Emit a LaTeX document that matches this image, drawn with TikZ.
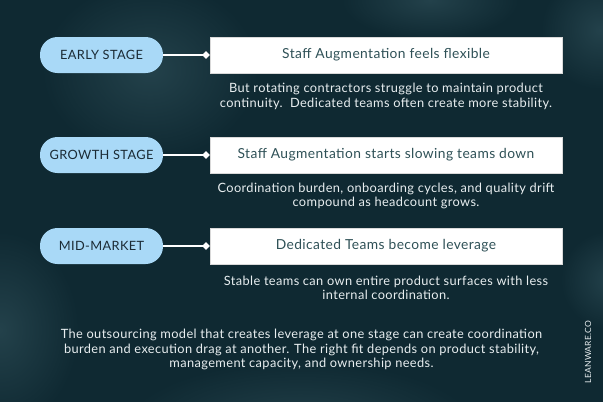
\documentclass[tikz,border=0pt]{standalone}
\usepackage{fontspec}
\setmainfont{Lato}[LetterSpace=3]
\usetikzlibrary{shapes.geometric,fadings}
\definecolor{bgdark}{HTML}{0F2932}
\definecolor{cloud}{HTML}{4A707A}
\definecolor{pillblue}{HTML}{A9D9F7}
\definecolor{pilltext}{HTML}{1B2B35}
\definecolor{titletext}{HTML}{2F5157}
\definecolor{desctext}{HTML}{E8EEF0}
\tikzfading[name=softblob, inner color=transparent!65, outer color=transparent!100]
\tikzset{
  stagepill/.style={fill=pillblue, rounded corners=17.5pt, minimum width=123pt, minimum height=36pt, inner sep=0pt, text=pilltext, font=\fontsize{12.8}{14}\selectfont},
  titlebox/.style={fill=white, draw=gray!30, line width=0.5pt, minimum width=352pt, minimum height=36pt, inner sep=0pt, text=titletext, font=\fontsize{13.8}{15}\selectfont},
  desc/.style={text=desctext, align=center, inner sep=0pt, font=\fontsize{12.8}{14.6}\selectfont},
  joint/.style={diamond, fill=white, inner sep=0pt, minimum size=8pt},
  connector/.style={draw=white, line width=2pt},
  blob/.style={fill=cloud, path fading=softblob}
}
\begin{document}
\begin{tikzpicture}[x=1pt,y=-1pt]
\fill[bgdark] (0,0) rectangle (603,402);
\useasboundingbox (0,0) rectangle (603,402);
% soft background clouds
\fill[blob] (150,70) ellipse (110pt and 90pt);
\fill[blob] (0,330) ellipse (80pt and 100pt);
\fill[blob] (300,430) ellipse (180pt and 70pt);
\fill[blob] (610,280) circle (50pt);
\fill[blob] (600,30) circle (60pt);
\fill[blob] (430,0) ellipse (90pt and 40pt);

% row 1
\node[stagepill] (p1) at (101.5,55) {EARLY STAGE};
\node[titlebox] (b1) at (386,55) {Staff Augmentation feels flexible};
\node[joint] (d1) at (206,55) {};
\draw[connector] (p1.east) -- (d1.center);
\node[desc] (t1) at (386,96.5) {But rotating contractors struggle to maintain product\\continuity.\ \ Dedicated teams often create more stability.};

% row 2
\node[stagepill] (p2) at (101.5,155) {GROWTH STAGE};
\node[titlebox] (b2) at (386,155) {Staff Augmentation starts slowing teams down};
\node[joint] (d2) at (206,155) {};
\draw[connector] (p2.east) -- (d2.center);
\node[desc] (t2) at (386,196) {Coordination burden, onboarding cycles, and quality drift\\compound as headcount grows.};

% row 3
\node[stagepill] (p3) at (101.5,246) {MID-MARKET};
\node[titlebox] (b3) at (386,246) {Dedicated Teams become leverage};
\node[joint] (d3) at (206,246) {};
\draw[connector] (p3.east) -- (d3.center);
\node[desc] (t3) at (386,288) {Stable teams can own entire product surfaces with less\\internal coordination.};

% summary
\node[desc] (sum) at (301.5,349.5) {The outsourcing model that creates leverage at one stage can create coordination\\burden and execution drag at another. The right fit depends on product stability,\\management capacity, and ownership needs.};

% brand
\node[text=desctext, rotate=90, inner sep=0pt, font=\fontsize{8.5}{10}\selectfont] (brand) at (588,352) {LEANWARE.CO};
\end{tikzpicture}
\end{document}
